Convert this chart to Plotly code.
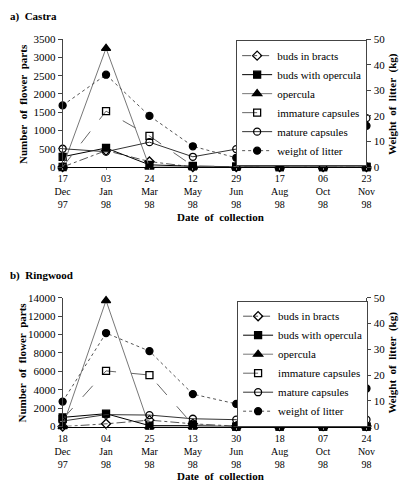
import plotly.graph_objects as go

W, H = 410, 496

# ---------------- data ----------------
castra_dates = ["17<br>Dec<br>97", "03<br>Jan<br>98", "24<br>Mar<br>98", "12<br>May<br>98",
                "29<br>Jun<br>98", "17<br>Aug<br>98", "06<br>Oct<br>98", "23<br>Nov<br>98"]
ring_dates = ["18<br>Dec<br>97", "04<br>Jan<br>98", "25<br>Mar<br>98", "13<br>May<br>98",
              "30<br>Jun<br>98", "18<br>Aug<br>98", "07<br>Oct<br>98", "24<br>Nov<br>98"]

series_names = ["buds in bracts", "buds with opercula", "opercula",
                "immature capsules", "mature capsules", "weight of litter"]

castra_buds_bracts = [0, 450, 150, 0, 0, 0, 0, 0]
castra_buds_operc = [280, 520, 60, 20, 10, 0, 0, 0]
castra_opercula = [0, 3250, 0, 0, 0, 0, 0, 0]
castra_immature = [0, 1530, 850, 30, 10, 0, 0, 0]
castra_mature = [500, 420, 680, 280, 490, 600, 660, 1340]
castra_litter = [24.1, 36.1, 20.0, 8.1, 3.6, 3.3, 8.9, 16.1]

ring_buds_bracts = [0, 300, 700, 300, 50, 50, 50, 50]
ring_buds_operc = [1000, 1400, 100, 100, 0, 0, 0, 0]
ring_opercula = [0, 13700, 0, 0, 0, 0, 0, 0]
ring_immature = [800, 6050, 5600, 200, 0, 0, 0, 0]
ring_mature = [600, 1300, 1250, 850, 750, 500, 500, 750]
ring_litter = [9.7, 36.3, 29.3, 12.6, 8.8, 4.9, 8.0, 14.8]

# ---------------- styles ----------------
styles = [
    dict(color="#555555", dash="dashdot", width=1, symbol="diamond-open", msize=7),
    dict(color="#000000", dash="solid", width=1, symbol="square", msize=7),
    dict(color="#777777", dash="solid", width=1, symbol="triangle-up", msize=8),
    dict(color="#666666", dash="longdash", width=1, symbol="square-open", msize=7),
    dict(color="#333333", dash="solid", width=1, symbol="circle-open", msize=7),
    dict(color="#555555", dash="dot", width=1, symbol="circle", msize=7),
]

FONT = "Liberation Serif, DejaVu Serif, Times New Roman, serif"

def px_x(p):
    return p / W

def px_y(p):
    return 1 - p / H

fig = go.Figure()

def add_panel(dates, vals, xa, ya_left, ya_right, legend_name):
    for i, (name, v) in enumerate(zip(series_names, vals)):
        s = styles[i]
        mcolor = "#000000"
        fig.add_trace(go.Scatter(
            x=dates, y=v, name=name, mode="lines+markers",
            xaxis=xa, yaxis=(ya_right if i == 5 else ya_left),
            line=dict(color=s["color"], dash=s["dash"], width=s["width"]),
            marker=dict(symbol=s["symbol"], size=s["msize"], color=mcolor,
                        line=dict(color=mcolor, width=1.3)),
            legend=legend_name, cliponaxis=False,
        ))

add_panel(castra_dates,
          [castra_buds_bracts, castra_buds_operc, castra_opercula,
           castra_immature, castra_mature, castra_litter],
          "x", "y", "y2", "legend")
add_panel(ring_dates,
          [ring_buds_bracts, ring_buds_operc, ring_opercula,
           ring_immature, ring_mature, ring_litter],
          "x2", "y3", "y4", "legend2")

tickfont = dict(family=FONT, size=11, color="black")
xtickfont = dict(family=FONT, size=10, color="black")

def xaxis(anchor):
    return dict(domain=[px_x(57), px_x(374)], anchor=anchor, type="category",
                range=[0, 7], showline=True, linecolor="black", linewidth=1,
                ticks="outside", ticklen=2, tickcolor="#888", showgrid=False,
                zeroline=False, tickfont=xtickfont, fixedrange=True)

def yleft(domain, rng, dtick):
    return dict(domain=domain, range=rng, dtick=dtick, showline=True,
                linecolor="#444", linewidth=1, ticks="outside", ticklen=4,
                tickcolor="#444", showgrid=False, zeroline=False,
                tickfont=tickfont, tickformat="d")

def yright(overlay, anchor, rng, dtick):
    return dict(overlaying=overlay, anchor=anchor, side="right", range=rng,
                dtick=dtick, showline=True, linecolor="#444", linewidth=1,
                ticks="outside", ticklen=4, tickcolor="#444", showgrid=False,
                zeroline=False, tickfont=tickfont, tickformat="d")

top_dom = [px_y(165), px_y(34)]
bot_dom = [px_y(431), px_y(299)]

legend_common = dict(xanchor="left", yanchor="top", bgcolor="white",
                     bordercolor="#444", borderwidth=1,
                     font=dict(family=FONT, size=11, color="black"),
                     itemwidth=30, tracegroupgap=0)

fig.update_layout(
    width=W, height=H, margin=dict(l=0, r=0, t=0, b=0),
    paper_bgcolor="white", plot_bgcolor="white",
    font=dict(family=FONT, size=11, color="black"),
    xaxis=xaxis("y"),
    yaxis=yleft(top_dom, [0, 3500], 500),
    yaxis2=yright("y", "x", [0, 50], 10),
    xaxis2=xaxis("y3"),
    yaxis3=yleft(bot_dom, [0, 14000], 2000),
    yaxis4=yright("y3", "x2", [0, 50], 10),
    legend=dict(x=px_x(238), y=px_y(35), **legend_common),
    legend2=dict(x=px_x(239), y=px_y(302), **legend_common),
)

bold = dict(family=FONT, size=11, color="black")
ann = [
    dict(text="<b>a)\u00a0\u00a0Castra</b>", x=0, y=px_y(11), xanchor="left"),
    dict(text="<b>b)\u00a0\u00a0Ringwood</b>", x=0, y=px_y(276), xanchor="left"),
    dict(text="<b>Date\u00a0\u00a0of\u00a0\u00a0collection</b>", x=px_x(222), y=px_y(216)),
    dict(text="<b>Date\u00a0\u00a0of\u00a0\u00a0collection</b>", x=px_x(222), y=px_y(482)),
    dict(text="<b>Number\u00a0\u00a0of\u00a0\u00a0flower\u00a0\u00a0parts</b>", x=px_x(15),
         y=px_y(100), textangle=-90),
    dict(text="<b>Number\u00a0\u00a0of\u00a0\u00a0flower\u00a0\u00a0parts</b>", x=px_x(15),
         y=px_y(365), textangle=-90),
    dict(text="<b>Weight\u00a0\u00a0of\u00a0\u00a0litter\u00a0\u00a0(kg)</b>", x=px_x(401),
         y=px_y(100), textangle=-90),
    dict(text="<b>Weight\u00a0\u00a0of\u00a0\u00a0litter\u00a0\u00a0(kg)</b>", x=px_x(401),
         y=px_y(365), textangle=-90),
]
for a in ann:
    a.setdefault("xanchor", "center")
    fig.add_annotation(xref="paper", yref="paper", showarrow=False,
                       yanchor="middle", font=bold, **a)

fig.write_html("out.html")
